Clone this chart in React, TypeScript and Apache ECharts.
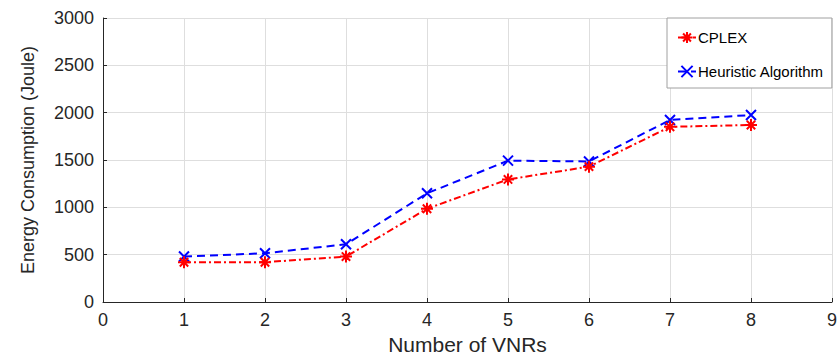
import React, { useEffect, useRef } from "react";
import * as echarts from "echarts";

const xValues = [1, 2, 3, 4, 5, 6, 7, 8];
const cplex = [420, 420, 480, 985, 1295, 1430, 1850, 1870];
const heuristic = [480, 515, 610, 1148, 1493, 1485, 1923, 1975];
const seriesNames = ["CPLEX", "Heuristic Algorithm"];

const asterisk = "path://M0,5L10,5M5,0L5,10M1.5,1.5L8.5,8.5M8.5,1.5L1.5,8.5";
const cross = "path://M0,0L10,10M10,0L0,10";

export default function App() {
  const ref = useRef<HTMLDivElement>(null);
  useEffect(() => {
    if (!ref.current) return;
    const chart = echarts.init(ref.current, undefined, { renderer: "svg" });
    const font = "'Liberation Sans', Arial, Helvetica, sans-serif";
    const axisColor = "#262626";
    const gridColor = "#dedede";
    chart.setOption({
      animation: false,
      backgroundColor: "#ffffff",
      grid: { left: 103, right: 5, top: 18, bottom: 58, containLabel: false },
      legend: {
        orient: "vertical",
        left: 667,
        top: 18,
        padding: [12, 8, 9, 10],
        itemWidth: 18,
        itemHeight: 14,
        itemGap: 19,
        backgroundColor: "#ffffff",
        borderColor: "#a0a0a0",
        borderWidth: 1,
        textStyle: { fontFamily: font, fontSize: 15, color: "#000000", padding: [0, 0, 0, -3] },
        data: seriesNames,
      },
      xAxis: {
        type: "value",
        min: 0,
        max: 9,
        interval: 1,
        name: "Number of VNRs",
        nameLocation: "middle",
        nameGap: 30,
        nameTextStyle: { fontFamily: font, fontSize: 21, color: axisColor },
        axisLine: { show: true, onZero: false, lineStyle: { color: axisColor, width: 1 } },
        axisTick: { show: true, inside: true, length: 4, lineStyle: { color: axisColor } },
        axisLabel: { fontFamily: font, fontSize: 18, color: axisColor, margin: 9 },
        splitLine: { show: true, lineStyle: { color: gridColor, width: 1 } },
      },
      yAxis: {
        type: "value",
        min: 0,
        max: 3000,
        interval: 500,
        name: "Energy Consumption (Joule)",
        nameLocation: "middle",
        nameGap: 66,
        nameTextStyle: { fontFamily: font, fontSize: 18, color: axisColor },
        axisLine: { show: true, onZero: false, lineStyle: { color: axisColor, width: 1 } },
        axisTick: { show: true, inside: true, length: 4, lineStyle: { color: axisColor } },
        axisLabel: {
          fontFamily: font,
          fontSize: 18,
          color: axisColor,
          margin: 9,
          formatter: (v: number) => String(v),
        },
        splitLine: { show: true, lineStyle: { color: gridColor, width: 1 } },
      },
      series: [
        {
          name: seriesNames[0],
          type: "line",
          data: xValues.map((x, i) => [x, cplex[i]]),
          symbol: asterisk,
          symbolSize: 12,
          showAllSymbol: true,
          itemStyle: { color: "#ff0000", borderColor: "#ff0000", borderWidth: 2 },
          lineStyle: { color: "#ff0000", width: 2, type: [7, 3, 2, 3] },
          z: 3,
        },
        {
          name: seriesNames[1],
          type: "line",
          data: xValues.map((x, i) => [x, heuristic[i]]),
          symbol: cross,
          symbolSize: 10,
          showAllSymbol: true,
          itemStyle: { color: "#0000ff", borderColor: "#0000ff", borderWidth: 2 },
          lineStyle: { color: "#0000ff", width: 2, type: [8, 5] },
          z: 2,
        },
      ],
    });
    return () => chart.dispose();
  }, []);
  return <div ref={ref} style={{ width: 840, height: 360, position: "absolute", left: 0, top: 0 }} />;
}
